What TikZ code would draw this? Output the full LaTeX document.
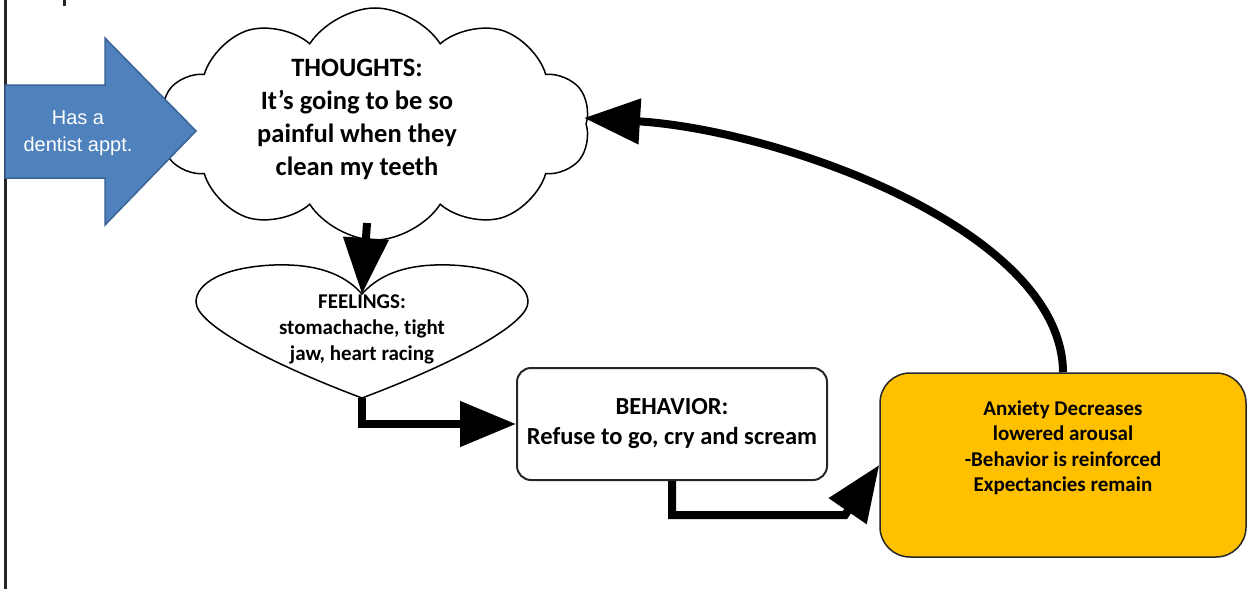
\documentclass[tikz,border=0pt]{standalone}
\usepackage{fontspec}
\setmainfont{Carlito}[Ligatures=NoCommon]
\newfontfamily\arialfont{Liberation Sans}
\usetikzlibrary{arrows.meta,shapes.symbols,calc}
\definecolor{apptblue}{HTML}{4F81BD}
\definecolor{apptedge}{HTML}{3A6396}
\definecolor{amber}{HTML}{FFC000}
\begin{document}
\begin{tikzpicture}[x=1pt,y=-1pt,
  outline/.style={draw=black,line width=1.5pt,fill=white},
  conn/.style={line width=8pt,-{Triangle[length=56pt,width=44pt]}},
  thoughttext/.style={font=\bfseries\fontsize{26.5}{33}\selectfont,align=center},
  feeltext/.style={font=\bfseries\fontsize{21}{26}\selectfont,align=center},
  behbox/.style={draw=black!85,line width=2pt,fill=white,rounded corners=14pt,
    minimum width=310pt,minimum height=112pt,align=center,
    font=\bfseries\fontsize{24.5}{30}\selectfont},
  anxbox/.style={draw=black!85,line width=1.5pt,fill=amber,rounded corners=30pt,
    minimum width=366pt,minimum height=184pt},
  anxtext/.style={font=\bfseries\fontsize{21}{25.5}\selectfont,align=center},
  appttext/.style={text=white,font=\arialfont\fontsize{20}{27}\selectfont,align=center}]
\useasboundingbox (0,0) rectangle (1250,589);

% page frame edge and clipped title stroke
\draw[line width=2.5pt,black!85] (5.5,0) -- (5.5,589);
\fill[black!85] (63,0) rectangle (66,6);

% thought cloud
\node[cloud,outline,cloud puffs=10,cloud puff arc=115,aspect=1.9,
      minimum width=430pt,minimum height=232pt,inner sep=0pt] (cloud) at (375,124) {};
\node[thoughttext] (thoughts) at (357,119)
  {THOUGHTS:\\It’s going to be so\\painful when they\\clean my teeth};

% trigger arrow
\draw[fill=apptblue,draw=apptedge,line width=1.5pt,line join=miter]
  (5,85) -- (105,85) -- (105,38) -- (196,131) -- (105,225) -- (105,178) -- (5,178) -- cycle;
\node[appttext] (appt) at (78,133) {Has a\\dentist appt.};

% heart
\coordinate (dip) at (362,294);
\coordinate (hbot) at (362,398);
\draw[outline]
  (hbot) .. controls (274,365) and (196,325) .. (196,302)
  .. controls (196,283) and (224,267) .. (274,265)
  .. controls (304,264) and (339,268) .. (dip)
  .. controls (385,268) and (420,264) .. (450,265)
  .. controls (500,267) and (528,283) .. (528,302)
  .. controls (528,325) and (450,365) .. (hbot) -- cycle;
\node[feeltext] (feel) at (362,329) {FEELINGS:\\stomachache, tight\\jaw, heart racing};

% behavior and outcome boxes
\node[behbox] (beh) at (672,424) {BEHAVIOR:\\Refuse to go, cry and scream};
\node[anxbox] (anx) at (1063,465) {};
\node[anxtext] (anxlbl) at ([yshift=17pt]anx.center)
  {Anxiety Decreases\\lowered arousal\\-Behavior is reinforced\\Expectancies remain};

% connectors
\coordinate (bend) at (845,515);
\coordinate (tin) at (584,118);
\coordinate (cloudfoot) at (367,223);
\draw[conn] (cloudfoot) -- (dip);
\draw[conn] (hbot) |- (beh.west);
\draw[conn] (beh.south) |- (bend) -- (anx.west);
\draw[conn] (anx.north) .. controls (1062,230) and (780,130) .. (tin);
\end{tikzpicture}
\end{document}
